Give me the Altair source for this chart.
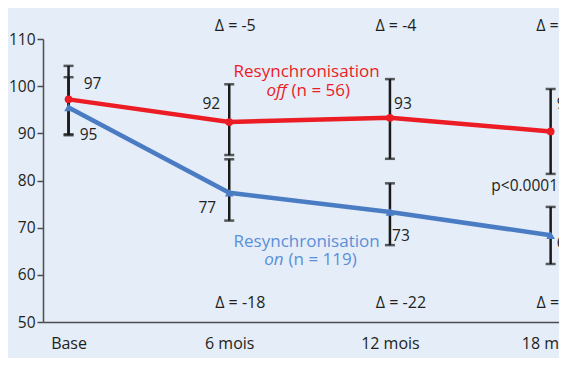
import altair as alt
import pandas as pd

categories = ["Base", "6 mois", "12 mois", "18 mois"]
positions = [0, 1, 2, 3]

off_values = [97.2, 92.4, 93.3, 90.4]
on_values = [95.5, 77.4, 73.3, 68.4]
off_hi = [104.3, 100.4, 101.5, 99.4]
off_lo = [89.8, 85.4, 84.6, 81.4]
on_hi = [101.9, 84.5, 79.4, 74.4]
on_lo = [89.6, 71.5, 66.3, 62.3]
off_labels = ["97", "92", "93", "90"]
on_labels = ["95", "77", "73", "68"]
delta_off = ["Δ = -5", "Δ = -4", "Δ = -7"]
delta_on = ["Δ = -18", "Δ = -22", "Δ = -27"]
y_ticks = [50, 60, 70, 80, 90, 100, 110]

RED = "#ec1c24"
BLUE = "#4a7cc4"
BLUE_TXT = "#5b8fd8"
BLACK = "#1a1a1a"
DARK = "#231f20"
BG = "#e4edf8"
FONT = "Open Sans"

lines = pd.DataFrame({
    "i": positions * 2,
    "v": off_values + on_values,
    "series": ["off"] * 4 + ["on"] * 4,
})
errs = pd.DataFrame({
    "i": positions * 2,
    "lo": off_lo + on_lo,
    "hi": off_hi + on_hi,
})

label_expr = "[" + ",".join(f"'{c}'" for c in categories) + "][datum.value]"
x_scale = alt.Scale(domain=[-0.159, 3.052], nice=False, zero=False)
y_scale = alt.Scale(domain=[50, 110], nice=False, zero=False)

x_axis = alt.Axis(values=positions, labelExpr=label_expr, ticks=False, grid=False,
                  labelPadding=13, labelFontSize=16, labelColor=DARK,
                  domainColor="#4d4d4d", domainWidth=1.5, title=None, labelFont=FONT)
y_axis = alt.Axis(values=y_ticks, grid=False, tickSize=6, tickColor="#4d4d4d", tickWidth=1.5,
                  labelPadding=2, labelFontSize=15.5, labelColor=DARK,
                  domainColor="#4d4d4d", domainWidth=1.5, title=None, labelFont=FONT)


def X(field="i"):
    return alt.X(f"{field}:Q", scale=x_scale, axis=x_axis)


def Y(field):
    return alt.Y(f"{field}:Q", scale=y_scale, axis=y_axis)


base_err = alt.Chart(errs)
rule = base_err.mark_rule(strokeWidth=2.5, color=BLACK).encode(x=X(), y=Y("lo"), y2="hi:Q")
cap_lo = base_err.mark_tick(orient="horizontal", size=10, thickness=2.5, color=BLACK).encode(x=X(), y=Y("lo"))
cap_hi = base_err.mark_tick(orient="horizontal", size=10, thickness=2.5, color=BLACK).encode(x=X(), y=Y("hi"))

line = alt.Chart(lines).mark_line(strokeWidth=4.5).encode(
    x=X(), y=Y("v"),
    color=alt.Color("series:N", scale=alt.Scale(domain=["off", "on"], range=[RED, BLUE]), legend=None),
)
pts_off = alt.Chart(lines[lines.series == "off"]).mark_point(
    shape="circle", filled=True, size=60, color=RED, opacity=1).encode(x=X(), y=Y("v"))
pts_on = alt.Chart(lines[lines.series == "on"]).mark_point(
    shape="triangle-up", filled=True, size=75, color=BLUE, opacity=1).encode(x=X(), y=Y("v"))

layers = [rule, cap_lo, cap_hi, line, pts_off, pts_on]


def txt(i, y, text, dx=0, dy=0, color=DARK, size=15.5, align="center", style="normal"):
    d = pd.DataFrame({"i": [i], "y": [y], "t": [text]})
    return alt.Chart(d).mark_text(dx=dx, dy=dy, color=color, fontSize=size, align=align,
                                  baseline="middle", font=FONT, fontStyle=style).encode(
        x=X(), y=Y("y"), text="t:N")


# value labels
off_offsets = [(24, -15), (-18, -18), (13, -14), (15, -27)]
on_offsets = [(20, 28), (-22, 15), (11, 24), (15, 8)]
for k in range(4):
    dx, dy = off_offsets[k]
    layers.append(txt(positions[k], off_values[k], off_labels[k], dx=dx, dy=dy))
    dx, dy = on_offsets[k]
    layers.append(txt(positions[k], on_values[k], on_labels[k], dx=dx, dy=dy))

# delta labels
for k in range(3):
    layers.append(txt(positions[k + 1], 112.8, delta_off[k], dx=6, size=16))
    layers.append(txt(positions[k + 1], 54.1, delta_on[k], dx=11, size=16))

# series labels
layers.append(txt(1.5, 103.1, "Resynchronisation", dx=-3, color=RED, size=17))
layers.append(txt(1.5, 99.0, "off", dx=-23, color=RED, size=17, align="right", style="italic"))
layers.append(txt(1.5, 99.0, "(n = 56)", dx=-18, color=RED, size=17, align="left"))
layers.append(txt(1.5, 67.0, "Resynchronisation", dx=-3, color=BLUE_TXT, size=17))
layers.append(txt(1.5, 63.1, "on", dx=-26, color=BLUE_TXT, size=17, align="right", style="italic"))
layers.append(txt(1.5, 63.1, "(n = 119)", dx=-21, color=BLUE_TXT, size=17, align="left"))

# p value
layers.append(txt(3, 78.8, "p<0.0001", dx=-26))

chart = alt.layer(*layers).properties(
    width=516, height=283,
    autosize=alt.AutoSizeParams(type="none"),
    padding={"left": 35, "top": 31, "right": 0, "bottom": 36},
).configure(background=BG, font=FONT).configure_view(stroke=None)

chart.save("out.html", embed_options={"renderer": "svg", "actions": False})
